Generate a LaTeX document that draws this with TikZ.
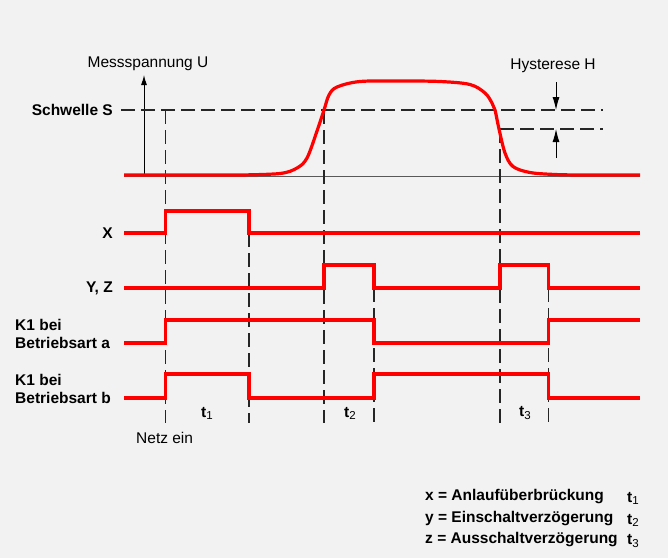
\documentclass[tikz,border=0pt]{standalone}
\usepackage{fontspec}
\setmainfont{Liberation Sans}
\usetikzlibrary{arrows.meta}
\definecolor{bg}{RGB}{242,242,242}
\definecolor{sig}{RGB}{255,0,0}
\tikzset{
  sigline/.style={draw=sig,line width=3.2pt,line join=miter},
  dashln/.style={draw=black!85,line width=1.1pt,dash pattern=on 14pt off 6pt},
  lbl/.style={font=\fontsize{15.5}{18}\selectfont\bfseries,inner sep=0pt},
  txt/.style={font=\fontsize{15.5}{18}\selectfont,inner sep=0pt},
  hyarrow/.style={draw=black,line width=1pt,-{Latex[length=13pt,width=7pt]}}
}
\newcommand{\tsub}[1]{\textbf{t}{\fontsize{11.5}{12}\selectfont\mdseries\raisebox{-0.35ex}{#1}}}
\begin{document}
\begin{tikzpicture}[x=1pt,y=-1pt]
\path[fill=bg] (0,0) rectangle (668,558);
\useasboundingbox (0,0) rectangle (668,558);

% baseline and axis
\draw[black!65,line width=1.3pt] (124,176.5) -- (640,176.5);
\draw[black,line width=1pt,-{Latex[length=10pt,width=6pt]}] (144,176) -- (144,75);
\node[txt,anchor=base] (mess) at (148,67) {Messspannung U};

% threshold lines
\draw[dashln] (121,110) -- (603,110);
\draw[dashln] (500,129) -- (603,129);
\node[lbl,anchor=east] (schwelle) at (113,110) {Schwelle S};
\node[txt] (hyst) at (553,66) {Hysterese H};
\coordinate (ha1) at (556,82);
\coordinate (ha2) at (556,110);
\coordinate (hb1) at (556,158);
\coordinate (hb2) at (556,129);
\draw[hyarrow] (ha1) -- (ha2);
\draw[hyarrow] (hb1) -- (hb2);

% vertical dashed lines
\draw[dashln] (165.5,110) -- (165.5,423);
\draw[dashln] (249,233) -- (249,423);
\draw[dashln] (324,110) -- (324,423);
\draw[dashln] (374,288) -- (374,423);
\draw[dashln] (500,129) -- (500,423);
\draw[dashln] (548.5,288) -- (548.5,423);

% measured voltage curve
\draw[sigline,line join=round] (124,175) -- (240,175)
  plot[smooth,tension=0.55] coordinates {(240,175) (280,173.5) (297,168) (307,158) (317,131) (324,110) (329,95) (337,87) (360,81.5) (400,81) (440,81.5) (470,84.5) (485,93) (492,103) (495,110) (499,129) (505,153) (513,166.5) (530,172.5) (555,174.5) (580,175)} -- (640,175);

% signals
\draw[sigline] (124,233) -- (165.5,233) -- (165.5,211) -- (249,211) -- (249,233) -- (640,233);
\draw[sigline] (124,288) -- (324,288) -- (324,265) -- (374,265) -- (374,288) -- (500,288) -- (500,265) -- (548.5,265) -- (548.5,288) -- (640,288);
\draw[sigline] (124,343) -- (165.5,343) -- (165.5,320) -- (374,320) -- (374,343) -- (548.5,343) -- (548.5,320) -- (640,320);
\draw[sigline] (124,398) -- (165.5,398) -- (165.5,374) -- (249,374) -- (249,398) -- (374,398) -- (374,374) -- (548.5,374) -- (548.5,398) -- (640,398);

% signal labels
\node[lbl,anchor=east] (lx) at (113,233) {X};
\node[lbl,anchor=east] (lyz) at (113,288) {Y, Z};
\node[lbl,anchor=west,align=left] (la) at (15,334) {K1 bei\\Betriebsart a};
\node[lbl,anchor=west,align=left] (lb) at (15,389) {K1 bei\\Betriebsart b};

% time labels
\node[txt] (t1) at (207,413) {\tsub{1}};
\node[txt] (t2) at (350,413) {\tsub{2}};
\node[txt] (t3) at (525,413) {\tsub{3}};
\node[txt,anchor=west] (netz) at (136,438) {Netz ein};

% legend
\node[lbl,anchor=west] (l1) at (425,497) {x = Anlaufüberbrückung};
\node[lbl,anchor=west] (l2) at (425,519) {y = Einschaltverzögerung};
\node[lbl,anchor=west] (l3) at (425,540) {z = Ausschaltverzögerung};
\node[txt,anchor=west] (l1t) at (627,498) {\tsub{1}};
\node[txt,anchor=west] (l2t) at (627,520) {\tsub{2}};
\node[txt,anchor=west] (l3t) at (627,541) {\tsub{3}};
\end{tikzpicture}
\end{document}
